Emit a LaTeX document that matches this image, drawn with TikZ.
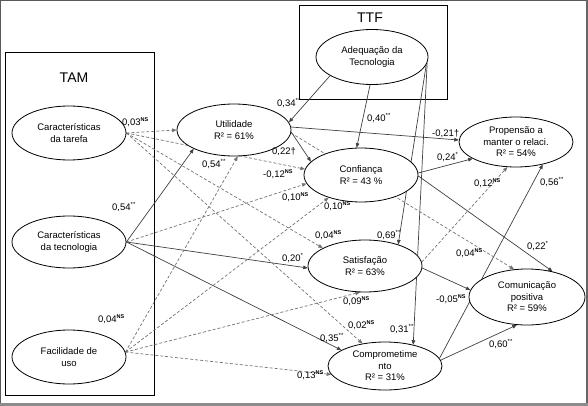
\documentclass[tikz,border=0pt]{standalone}
\usepackage{fontspec}
\setmainfont{Liberation Sans}
\usetikzlibrary{shapes.geometric,arrows.meta}
\pgfdeclarelayer{bg}
\pgfsetlayers{bg,main}
\newcommand{\nsig}{\raisebox{0.85ex}{\fontsize{5.5}{6}\selectfont\bfseries NS}}
\newcommand{\dstar}{\raisebox{0.85ex}{\fontsize{6}{6}\selectfont **}}
\newcommand{\ostar}{\raisebox{0.85ex}{\fontsize{6}{6}\selectfont *}}
\begin{document}
\begin{tikzpicture}[x=1pt,y=-1pt,
 ell/.style={ellipse,draw=black,line width=0.8pt,fill=white,inner sep=0pt,align=center,font=\fontsize{9.5}{11.5}\selectfont},
 lab/.style={anchor=base west,inner sep=0pt,font=\fontsize{9.5}{11}\selectfont},
 sol/.style={draw=black!75,line width=0.7pt,-{Triangle[length=4.5pt,width=3.6pt]}},
 das/.style={draw=black!55,line width=0.7pt,dash pattern=on 3pt off 2pt,-{Triangle[length=4.5pt,width=3.6pt]}},
 box/.style={draw=black,line width=0.8pt},
 ttl/.style={font=\fontsize{14}{16}\selectfont,inner sep=0pt}]
\useasboundingbox (0,0) rectangle (588,406);
% outer frame
\fill[black!65] (0,0) rectangle (588,1.2);
\fill[black!65] (0,0) rectangle (1.2,403);
\fill[black!60] (585.6,0) rectangle (587.6,403);
\fill[black!45] (0,403) rectangle (588,406);

% nodes
\node[ell,minimum width=114pt,minimum height=54pt] (tar) at (69,133) {Características\\da tarefa};
\node[ell,minimum width=114pt,minimum height=52pt] (tec) at (69,242) {Características\\da tecnologia};
\node[ell,minimum width=114pt,minimum height=54pt] (fac) at (69,357) {Facilidade de\\uso};
\node[ell,minimum width=114pt,minimum height=52pt] (util) at (234,130) {Utilidade\\R² = 61\%};
\node[ell,minimum width=112pt,minimum height=55pt] (adeq) at (372,57) {Adequação da\\Tecnologia};
\node[ell,minimum width=114pt,minimum height=54pt] (conf) at (361,175) {Confiança\\R² = 43 \%};
\node[ell,minimum width=114pt,minimum height=50pt] (prop) at (516,142) {Propensão a\\manter o relaci.\\R² = 54\%};
\node[ell,minimum width=114pt,minimum height=52pt] (sat) at (365,266) {Satisfação\\R² = 63\%};
\node[ell,minimum width=116pt,minimum height=56pt] (com) at (527,297) {Comunicação\\positiva\\R² = 59\%};
\node[ell,minimum width=114pt,minimum height=48pt] (comp) at (385,366) {Comprometime\\nto\\R² = 31\%};

\node[ttl] (tamt) at (74,78) {TAM};
\node[ttl] (ttft) at (370,18) {TTF};

\begin{pgfonlayer}{bg}
\draw[box] (5,52) rectangle (154,395);
\draw[box] (299,5) rectangle (447,99);
% solid
\draw[sol] (adeq.204) -- (util.8);
\draw[sol] (adeq.266) -- (conf.99);
\draw[sol] (adeq.-8) -- (sat.33);
\draw[sol] (adeq.-6) -- (comp.37);
\draw[sol] (util.3) -- (prop.178);
\draw[sol] (util.-2) -- (conf.165);
\draw[sol] (conf.2) -- (prop.201);
\draw[sol] (conf.-1) -- (com.45);
\draw[sol] (sat.-2) -- (com.173);
\draw[sol] (comp.8) -- (prop.320);
\draw[sol] (comp.6) -- (com.250);
\draw[sol] (tec.east) -- (util.205);
\draw[sol] (tec.east) -- (sat.182);
\draw[sol] (tec.east) -- (comp.160);
% dashed
\draw[das] (tar.east) -- (util.180);
\draw[das] (tar.east) -- (conf.174);
\draw[das] (tar.east) -- (sat.157);
\draw[das] (tar.east) -- (comp.135);
\draw[das] (tec.east) -- (conf.189);
\draw[das] (fac.5) -- (util.278);
\draw[das] (fac.5) -- (conf.215);
\draw[das] (fac.5) -- (sat.259);
\draw[das] (fac.5) -- (comp.189);
\draw[das] (util.-3) -- (com.115);
\draw[das] (sat.4) -- (prop.251);
\end{pgfonlayer}

% labels
\node[lab] (l1) at (122,125.5) {0,03\nsig};
\node[lab] (l2) at (202,167.5) {0,54\dstar};
\node[lab] (l3) at (112,210.5) {0,54\dstar};
\node[lab] (l4) at (98,322.5) {0,04\nsig};
\node[lab] (l5) at (277,106.5) {0,34\dstar};
\node[lab] (l6) at (272,154.5) {0,22\textdagger};
\node[lab] (l7) at (263,177.5) {-0,12\nsig};
\node[lab] (l8) at (282,200.5) {0,10\nsig};
\node[lab] (l9) at (324,209.5) {0,10\nsig};
\node[lab] (l10) at (367,121.5) {0,40\dstar};
\node[lab] (l11) at (432,136.5) {-0,21\textdagger};
\node[lab] (l12) at (437,160.5) {0,24\ostar};
\node[lab] (l13) at (474,186.5) {0,12\nsig};
\node[lab] (l14) at (540,185.5) {0,56\dstar};
\node[lab] (l15) at (315,238.5) {0,04\nsig};
\node[lab] (l16) at (377,238.5) {0,69\dstar};
\node[lab] (l17) at (282,261.5) {0,20\ostar};
\node[lab] (l18) at (456,256.5) {0,04\nsig};
\node[lab] (l19) at (527,249.5) {0,22\ostar};
\node[lab] (l20) at (343,304.5) {0,09\nsig};
\node[lab] (l21) at (436,302.5) {-0,05\nsig};
\node[lab] (l22) at (348,328.5) {0,02\nsig};
\node[lab] (l23) at (390,332.5) {0,31\dstar};
\node[lab] (l24) at (320,341.5) {0,35\dstar};
\node[lab] (l25) at (489,347.5) {0,60\dstar};
\node[lab] (l26) at (297,378.5) {0,13\nsig};
\end{tikzpicture}
\end{document}
